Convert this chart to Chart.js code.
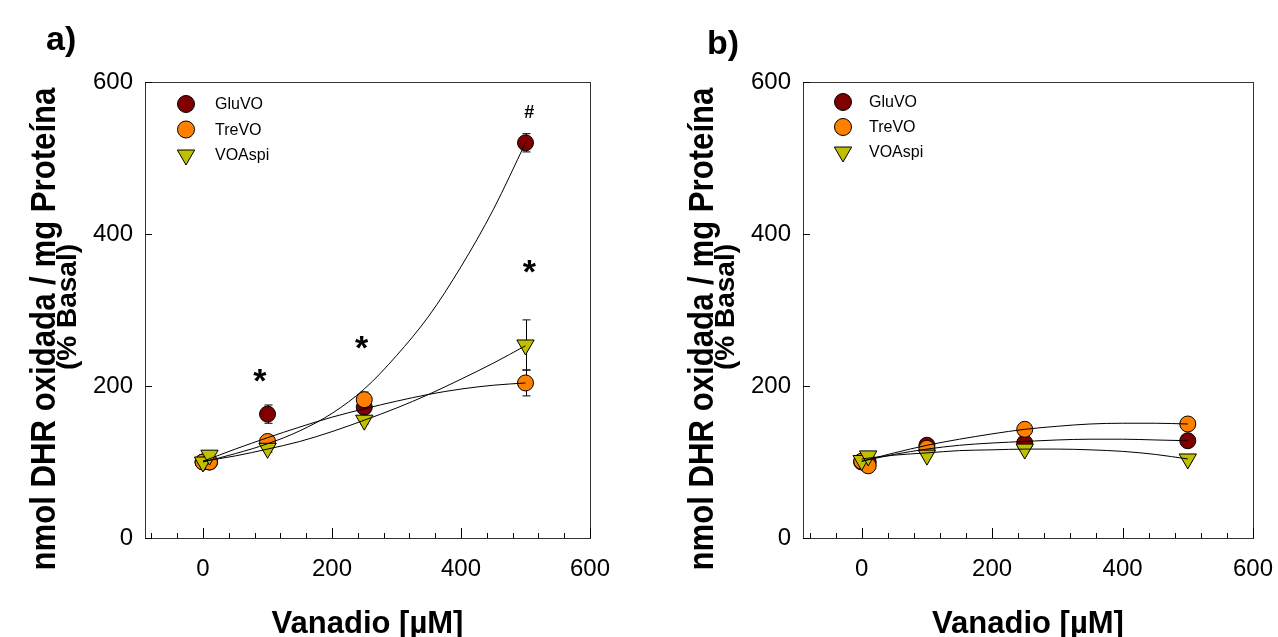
<!DOCTYPE html>
<html>
<head>
<meta charset="utf-8">
<script src="https://cdn.jsdelivr.net/npm/chart.js@4.4.1/dist/chart.umd.min.js"></script>
<style>
  html, body { margin: 0; padding: 0; background: #fff; overflow: hidden; }
  .panel { position: absolute; top: 0; height: 637px; }
  #wrapA { left: 0; width: 640px; }
  #wrapB { left: 640px; width: 638px; }
</style>
</head>
<body>
<div class="panel" id="wrapA"><canvas id="chartA"></canvas></div>
<div class="panel" id="wrapB"><canvas id="chartB"></canvas></div>
<script>
// concentraciones de vanadio (uM)
const doses = [0, 10, 100, 250, 500];

// panel a) valores medios (% basal)
const gluA = [100, 100, 163, 172, 520];
const treA = [100, 100, 127, 182, 204];
const aspA = [100, 109, 118, 155, 254];
// errores panel a)
const gluErrA = [0, 0, 12, 8, 12];
const treErrA = [3, 3, 8, 10, 17];
const aspErrA = [5, 5, 5, 5, 33];

// panel b)
const gluB = [100, 100, 122, 125, 128];
const treB = [101, 95, 118, 143, 150];
const aspB = [102, 108, 109, 117, 104];
const gluErrB = [2, 2, 4, 4, 4];
const treErrB = [2, 2, 4, 4, 4];
const aspErrB = [2, 2, 3, 3, 3];

// curvas de ajuste
const curveX = [0, 50, 100, 150, 200, 250, 300, 350, 400, 450, 500];
const gluFitA = [100, 111, 124, 141, 164, 196, 240, 292, 357, 432, 520];
const treFitA = [101, 117, 132, 146, 159, 170, 180, 189, 196, 201, 204];
const aspFitA = [101, 108, 117, 127, 140, 155, 171, 189, 209, 230, 253];
const gluFitB = [101, 110, 117, 122, 125, 127, 129, 130, 130, 129, 128];
const treFitB = [101, 112, 122, 130, 137, 143, 147, 150, 151, 151, 150];
const aspFitB = [104, 109, 112, 115, 116, 117, 117, 116, 114, 110, 104];

// asteriscos y almohadilla (panel a)
const markX = [88, 246, 506, 506];
const markY = [218, 262, 361, 561];
const markText = ['*', '*', '*', '#'];

// ejes
const xTicks = [-80, -40, 0, 40, 80, 120, 160, 200, 240, 280, 320, 360, 400, 440, 480, 520, 560, 600];
const yTicks = [0, 200, 400, 600];

const seriesNames = ['GluVO', 'TreVO', 'VOAspi'];
const seriesColors = ['#800000', '#ff8000', '#c0c000'];

const FONT = "'Liberation Sans', Arial, sans-serif";

function pts(xs, ys) {
    return xs.map((x, i) => ({ x: x, y: ys[i] }));
}

function drawMarker(ctx, i, x, y) {
    ctx.save();
    ctx.fillStyle = seriesColors[i];
    ctx.strokeStyle = '#000';
    ctx.lineWidth = 1;
    ctx.beginPath();
    if (i === 2) {
        const r = 10;
        ctx.moveTo(x, y + r);
        ctx.lineTo(x - r * Math.sin(Math.PI / 3), y - r / 2);
        ctx.lineTo(x + r * Math.sin(Math.PI / 3), y - r / 2);
        ctx.closePath();
    } else {
        ctx.arc(x, y, 8.5, 0, Math.PI * 2);
    }
    ctx.fill();
    ctx.stroke();
    ctx.restore();
}

// plugin: marco, ticks hacia dentro, barras de error, leyenda y titulos
const decoPlugin = {
    id: 'deco',
    beforeDatasetsDraw(chart, args, o) {
        const ctx = chart.ctx, xs = chart.scales.x, ys = chart.scales.y;
        ctx.save();
        ctx.strokeStyle = '#000';
        ctx.lineWidth = 1;
        o.errors.forEach((err, s) => {
            const vals = o.values[s];
            doses.forEach((d, k) => {
                if (!err[k]) return;
                const px = Math.round(xs.getPixelForValue(d)) + 0.5;
                const y1 = ys.getPixelForValue(vals[k] + err[k]);
                const y2 = ys.getPixelForValue(vals[k] - err[k]);
                ctx.beginPath();
                ctx.moveTo(px, y1); ctx.lineTo(px, y2);
                ctx.moveTo(px - 4, y1); ctx.lineTo(px + 4, y1);
                ctx.moveTo(px - 4, y2); ctx.lineTo(px + 4, y2);
                ctx.stroke();
            });
        });
        ctx.restore();
    },
    afterDraw(chart, args, o) {
        const ctx = chart.ctx, a = chart.chartArea;
        const xs = chart.scales.x, ys = chart.scales.y;
        ctx.save();
        // marco
        ctx.strokeStyle = '#333';
        ctx.lineWidth = 1;
        ctx.strokeRect(Math.round(a.left) + 0.5, Math.round(a.top) + 0.5,
            Math.round(a.right - a.left), Math.round(a.bottom - a.top));
        // ticks hacia dentro
        ctx.strokeStyle = '#000';
        ctx.beginPath();
        xs.ticks.forEach(t => {
            const px = Math.round(xs.getPixelForValue(t.value)) + 0.5;
            const len = t.value % 200 === 0 ? 10 : 5;
            ctx.moveTo(px, a.bottom);
            ctx.lineTo(px, a.bottom - len);
        });
        ys.ticks.forEach(t => {
            const py = Math.round(ys.getPixelForValue(t.value)) + 0.5;
            ctx.moveTo(a.left, py);
            ctx.lineTo(a.left + 7, py);
        });
        ctx.stroke();

        // leyenda
        ctx.fillStyle = '#000';
        ctx.font = '16px ' + FONT;
        ctx.textBaseline = 'middle';
        ctx.textAlign = 'left';
        seriesNames.forEach((name, i) => {
            const y = a.top + o.legend.dy + i * o.legend.step;
            drawMarker(ctx, i, a.left + o.legend.dx, y);
            ctx.fillStyle = '#000';
            ctx.fillText(name, a.left + o.legend.tx, y + 1);
        });

        // marcas de significacion
        if (o.marks) {
            ctx.textAlign = 'center';
            ctx.textBaseline = 'alphabetic';
            markText.forEach((t, k) => {
                const size = t === '*' ? 34 : 18;
                ctx.font = 'bold ' + size + 'px ' + FONT;
                const px = xs.getPixelForValue(markX[k]);
                const py = ys.getPixelForValue(markY[k]);
                ctx.fillText(t, px, py + (t === '*' ? 0.58 : 0.36) * size);
            });
        }

        // titulo eje x
        ctx.textAlign = 'center';
        ctx.textBaseline = 'alphabetic';
        ctx.font = 'bold 31px ' + FONT;
        ctx.fillText('Vanadio [\u00b5M]', (a.left + a.right) / 2, 633);

        // titulo eje y (dos lineas, la primera algo estrecha)
        const yt = [
            { text: 'nmol DHR oxidada / mg Prote\u00edna', size: 35, sx: 0.89, dx: -90, yc: 329 },
            { text: '(% Basal)', size: 28, sx: 1, dx: -69, yc: 307 }
        ];
        yt.forEach(l => {
            ctx.save();
            ctx.translate(a.left + l.dx, l.yc);
            ctx.rotate(-Math.PI / 2);
            ctx.scale(l.sx, 1);
            ctx.font = 'bold ' + l.size + 'px ' + FONT;
            ctx.fillText(l.text, 0, 0);
            ctx.restore();
        });

        // etiqueta del panel
        ctx.textAlign = 'left';
        ctx.font = 'bold 34px ' + FONT;
        ctx.fillText(o.label, o.labelX, o.labelY);
        ctx.restore();
    }
};

function makeChart(id, d) {
    const scatterSets = [d.glu, d.tre, d.asp].map((vals, i) => ({
        label: seriesNames[i],
        data: pts(doses, vals),
        backgroundColor: seriesColors[i],
        borderColor: '#000',
        borderWidth: 1,
        pointStyle: i === 2 ? 'triangle' : 'circle',
        pointRotation: i === 2 ? 180 : 0,
        pointRadius: i === 2 ? 10 : 8,
        pointHoverRadius: i === 2 ? 10 : 8,
        order: 3 - i
    }));
    const curveSets = d.fits.map(f => ({
        label: 'fit',
        data: pts(curveX, f),
        showLine: true,
        borderColor: '#000',
        borderWidth: 1,
        pointRadius: 0,
        tension: 0.4,
        cubicInterpolationMode: 'monotone',
        order: 0
    }));

    return new Chart(document.getElementById(id), {
        type: 'scatter',
        data: { datasets: scatterSets.concat(curveSets) },
        options: {
            responsive: true,
            maintainAspectRatio: false,
            animation: false,
            layout: { padding: { left: 0, top: 82, right: d.padRight, bottom: 0 } },
            plugins: {
                legend: { display: false },
                tooltip: { enabled: false },
                deco: {
                    errors: d.errors,
                    values: [d.glu, d.tre, d.asp],
                    legend: d.legend,
                    marks: d.marks,
                    label: d.label,
                    labelX: d.labelX,
                    labelY: d.labelY
                }
            },
            scales: {
                x: {
                    type: 'linear',
                    min: -90,
                    max: 600,
                    afterBuildTicks: s => { s.ticks = xTicks.map(v => ({ value: v })); },
                    afterFit: s => { s.height = 99; s.paddingLeft = 0; s.paddingRight = 0; },
                    grid: { display: false, drawTicks: false },
                    border: { display: false },
                    ticks: {
                        autoSkip: false,
                        maxRotation: 0,
                        padding: 17,
                        color: '#000',
                        font: { family: FONT, size: 24 },
                        callback: v => (v % 200 === 0 ? v : '')
                    }
                },
                y: {
                    min: 0,
                    max: 600,
                    afterBuildTicks: s => { s.ticks = yTicks.map(v => ({ value: v })); },
                    afterFit: s => { s.width = d.yWidth; s.paddingTop = 0; s.paddingBottom = 0; },
                    grid: { display: false, drawTicks: false },
                    border: { display: false },
                    ticks: {
                        padding: 12,
                        color: '#000',
                        font: { family: FONT, size: 24 }
                    }
                }
            }
        },
        plugins: [decoPlugin]
    });
}

makeChart('chartA', {
    glu: gluA, tre: treA, asp: aspA,
    errors: [gluErrA, treErrA, aspErrA],
    fits: [gluFitA, treFitA, aspFitA],
    padRight: 50, yWidth: 145,
    legend: { dx: 41, dy: 22, step: 25.5, tx: 70 },
    marks: true,
    label: 'a)', labelX: 46, labelY: 50
});

makeChart('chartB', {
    glu: gluB, tre: treB, asp: aspB,
    errors: [gluErrB, treErrB, aspErrB],
    fits: [gluFitB, treFitB, aspFitB],
    padRight: 25, yWidth: 163,
    legend: { dx: 40, dy: 20, step: 25, tx: 66 },
    marks: false,
    label: 'b)', labelX: 67, labelY: 54
});
</script>
</body>
</html>
